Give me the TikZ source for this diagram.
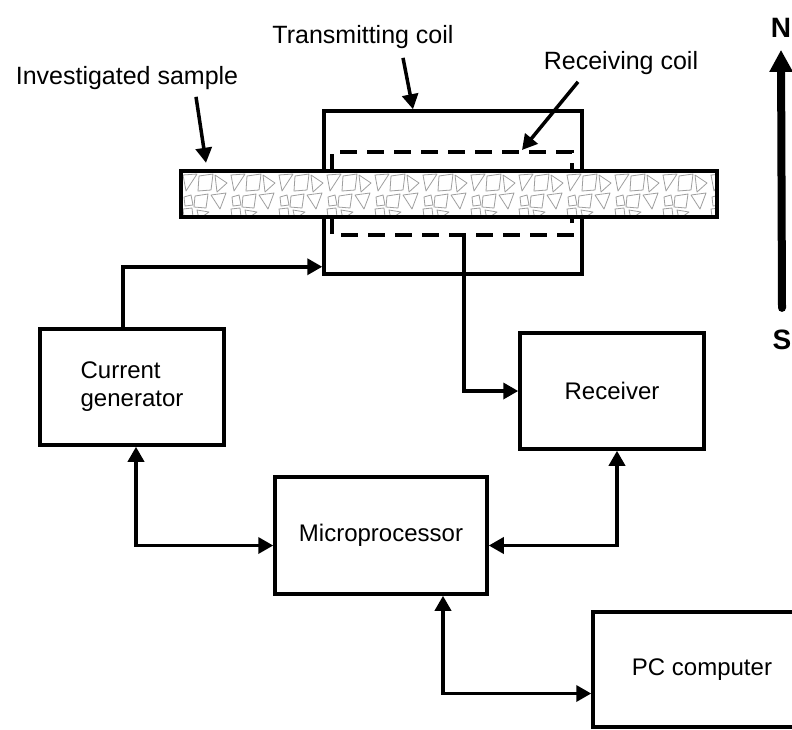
\documentclass[tikz,border=0pt]{standalone}
\usepackage{fontspec}
\setmainfont{Liberation Sans}
\usetikzlibrary{arrows.meta,calc}

\begin{document}
\begin{tikzpicture}[x=1pt, y=-1pt,
  block/.style={draw, line width=3.5pt, fill=white, font=\fontsize{24}{28}\selectfont, align=center, inner sep=0pt},
  lbl/.style={font=\fontsize{25}{30}\selectfont, inner sep=1pt},
  pole/.style={font=\bfseries\fontsize{28}{32}\selectfont, inner sep=0pt},
  conn/.style={line width=3.5pt, -{Triangle[length=15pt,width=16pt]}},
  biconn/.style={line width=3.5pt, {Triangle[length=15pt,width=16pt]}-{Triangle[length=15pt,width=16pt]}},
  coildash/.style={line width=3.5pt, dash pattern=on 17pt off 10pt},
  grain/.style={gray!75, line width=0.8pt, line join=round}]
\useasboundingbox (0,0) rectangle (792,729);
\clip (0,0) rectangle (792,729);

% transmitting and receiving coils
\node[draw, line width=3.5pt, minimum width=258pt, minimum height=163pt, inner sep=0pt] (tcoil) at (453,192.5) {};
\draw[coildash] (332,171) -- (332,152) -- (572,152) -- (572,171);
\draw[coildash] (332,217) -- (332,235) -- (572,235) -- (572,217);
\coordinate (rcb) at (464,235);
\coordinate (rct) at (522,150);

% sample strip with grain texture
\node[fill=white, minimum width=536pt, minimum height=46pt, inner sep=0pt] (sample) at (449,194) {};
\begin{scope}
  \clip (sample.north west) rectangle (sample.south east);
  \foreach \k in {0,...,11} {
    \begin{scope}[shift={(181+\k*48,171)}]
      \foreach \ax/\ay/\bx/\by/\cx/\cy in {2/4/16/3/5/20, 34/4/46/12/36/21, 30/24/45/22/39/38, 16/39/28/41/18/48}
        \draw[grain] (\ax,\ay) -- (\bx,\by) -- (\cx,\cy) -- cycle;
      \foreach \ax/\ay/\bx/\by/\cx/\cy/\dx/\dy in {18/5/32/3/30/19/17/20, 3/26/10/24/12/34/4/35, 14/25/27/23/25/37/13/36, 2/38/11/37/12/46/3/46}
        \draw[grain] (\ax,\ay) -- (\bx,\by) -- (\cx,\cy) -- (\dx,\dy) -- cycle;
    \end{scope}
  }
\end{scope}
\draw[line width=3.5pt] (sample.north west) rectangle (sample.south east);

% blocks
\node[block, align=left, minimum width=184pt, minimum height=116pt] (gen) at (132,387) {Current\\generator};
\node[block, minimum width=184pt, minimum height=116pt] (rec) at (612,391) {Receiver};
\node[block, minimum width=212pt, minimum height=117pt] (mic) at (381,535.5) {Microprocessor};
\node[block, minimum width=218pt, minimum height=115pt] (pc) at (702,669.5) {PC computer};

% labels
\node[lbl] (tlab) at (363,37) {Transmitting coil};
\node[lbl] (rlab) at (621,63) {Receiving coil};
\node[lbl] (slab) at (127,78) {Investigated sample};
\draw[conn] ([xshift=40pt,yshift=-8pt]tlab.south) -- ([xshift=-40pt]tcoil.north);
\draw[conn] ([xshift=-43pt,yshift=-6pt]rlab.south) -- (rct);
\draw[conn] ([xshift=69pt,yshift=-6pt]slab.south) -- ([xshift=-243pt,yshift=8pt]sample.north);

% signal lines
\draw[conn] ([xshift=-9pt]gen.north) |- ([yshift=9pt]tcoil.south west);
\draw[conn] (rcb) |- (rec.west);
\draw[biconn] ([xshift=4pt]gen.south) |- ([yshift=-10pt]mic.west);
\draw[biconn] ([xshift=5pt]rec.south) |- ([yshift=-10pt]mic.east);
\draw[biconn] ([xshift=62pt]mic.south) |- ([yshift=-24pt]pc.west);

% field direction
\node[pole] (north) at (781,28) {N};
\node[pole] (south) at (782,340) {S};
\draw[line width=8pt, line cap=round, -{Triangle[length=22pt,width=22pt]}] ([yshift=22pt]south.north) -- ([yshift=-12pt]north.south);
\end{tikzpicture}
\end{document}
